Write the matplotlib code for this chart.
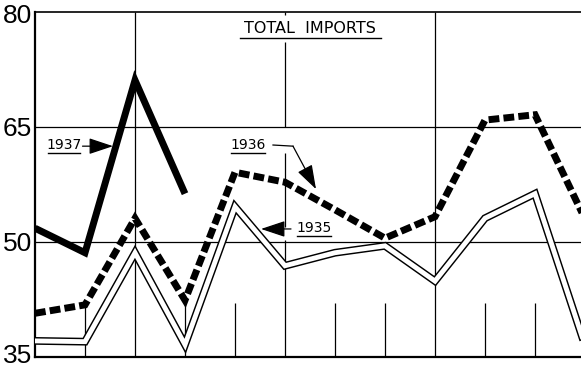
import matplotlib.pyplot as plt
import matplotlib.transforms as mtransforms
import numpy as np

# Monthly total imports, Jan..Dec
months = np.arange(12)
imports_1935 = [37.1, 37.0, 48.6, 36.6, 54.6, 46.9, 48.6, 49.5, 44.9, 53.1, 56.3, 36.5]
imports_1936 = [40.7, 41.8, 53.1, 42.4, 59.1, 57.8, 54.2, 50.5, 53.3, 65.9, 66.6, 53.0]
imports_1937 = [51.8, 48.6, 71.1, 56.3]

y_ticks = [35, 50, 65, 80]
major_months = [2, 5, 8]
minor_months = [1, 3, 4, 6, 7, 9, 10]

W, H = 581, 369
fig = plt.figure(figsize=(W / 100, H / 100), dpi=100)
ax = fig.add_axes([35 / W, 12 / H, 1 - 35 / W, 345 / H])

ax.set_xlim(0, 10.92)
ax.set_ylim(35, 80)

ax.spines["right"].set_visible(False)
ax.spines["left"].set_linewidth(1.6)
ax.spines["bottom"].set_linewidth(1.6)
ax.spines["top"].set_linewidth(1.2)

ax.set_xticks([])
ax.set_yticks(y_ticks)
ax.set_yticklabels([str(v) for v in y_ticks], family="Liberation Sans", fontsize=19)
ax.tick_params(axis="y", length=0, pad=2)

# keep the bottom label inside the figure, top one off the edge
fig.canvas.draw()
ticklabels = ax.get_yticklabels()
ticklabels[0].set_transform(ticklabels[0].get_transform()
                            + mtransforms.ScaledTranslation(0, 3 / 100, fig.dpi_scale_trans))
ticklabels[-1].set_transform(ticklabels[-1].get_transform()
                             + mtransforms.ScaledTranslation(0, -2 / 100, fig.dpi_scale_trans))

# grid: quarter lines full height, other months short ticks
for v in [50, 65]:
    ax.axhline(v, color="black", lw=0.9, zorder=1)
ax.vlines([2, 8], 35, 80, color="black", lw=0.9, zorder=1)
for lo, hi in [(35, 50.3), (51.9, 61.6), (65, 76.1), (79.6, 80)]:
    ax.vlines(5, lo, hi, color="black", lw=0.9, zorder=1)
ax.vlines(minor_months, 35, 42.0, color="black", lw=0.9, zorder=1)

# 1935: double outline line
ax.plot(months, imports_1935, color="black", lw=5.6, solid_joinstyle="miter", zorder=3)
ax.plot(months, imports_1935, color="white", lw=3.5, solid_joinstyle="miter", zorder=3.1)

# 1936: heavy dashes
ax.plot(months, imports_1936, color="black", lw=5.0, dashes=(1.55, 0.6),
        dash_capstyle="butt", dash_joinstyle="miter", zorder=4)

# 1937: heavy solid (Jan-Apr)
ax.plot(months[:len(imports_1937)], imports_1937, color="black", lw=5.0,
        solid_joinstyle="miter", solid_capstyle="butt", zorder=5)

lbl = dict(fontsize=10, ha="center", va="center", color="black")
arrow = dict(arrowstyle="-|>,head_length=1.5,head_width=0.5", color="black",
             lw=0.9, shrinkA=0, shrinkB=0, mutation_scale=10)

# title
ax.text(5.5, 77.8, "TOTAL  IMPORTS", fontsize=11.5, ha="center", va="center")
ax.plot([4.1, 6.92], [76.6, 76.6], color="black", lw=1.0)

# 1937 label
ax.text(0.58, 62.65, "1937", **lbl)
ax.plot([0.26, 0.9], [61.6, 61.6], color="black", lw=1.0)
ax.annotate("", xy=(1.56, 62.5), xytext=(0.95, 62.5), arrowprops=arrow)

# 1936 label with bent leader
ax.text(4.26, 62.65, "1936", **lbl)
ax.plot([3.92, 4.6], [61.6, 61.6], color="black", lw=1.0)
ax.plot([4.76, 5.16], [62.65, 62.5], color="black", lw=0.9)
ax.annotate("", xy=(5.62, 56.9), xytext=(5.16, 62.5), arrowprops=arrow)

# 1935 label
ax.text(5.58, 51.8, "1935", **lbl)
ax.plot([5.24, 5.92], [50.8, 50.8], color="black", lw=1.0)
ax.annotate("", xy=(4.52, 51.7), xytext=(5.12, 51.7), arrowprops=arrow)

fig.savefig("out.png", dpi=100)
